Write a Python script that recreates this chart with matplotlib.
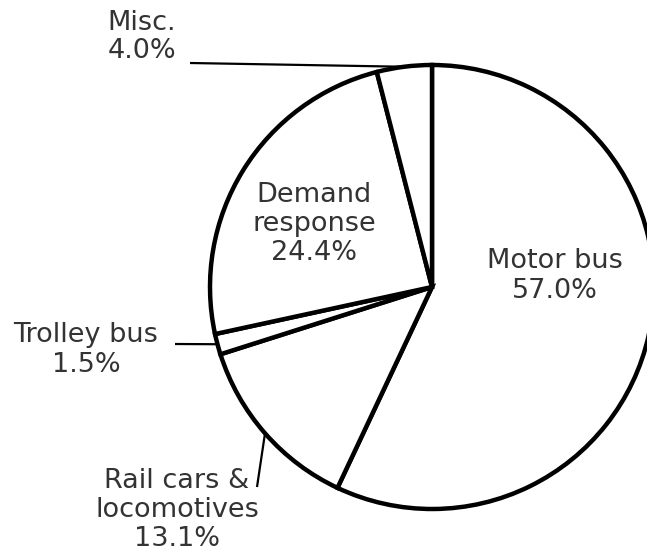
import numpy as np
import matplotlib
matplotlib.use("Agg")
import matplotlib.pyplot as plt

# transit vehicle share (%), clockwise from 12 o'clock
labels = ["Motor bus", "Rail cars &\nlocomotives", "Trolley bus", "Demand\nresponse", "Misc."]
shares = [57.0, 13.1, 1.5, 24.4, 4.0]

W, H = 647, 558
fig = plt.figure(figsize=(W / 100, H / 100), dpi=100)
ax = fig.add_axes([0, 0, 1, 1])

cx, cy, r = 432, H - 287, 222
wedges, _ = ax.pie(shares, center=(cx, cy), radius=r, startangle=90,
                   counterclock=False, frame=True,
                   wedgeprops=dict(facecolor="white", edgecolor="black", linewidth=3.2))

ax.set_xlim(0, W)
ax.set_ylim(0, H)
ax.set_aspect("equal")
ax.axis("off")

txt = dict(fontsize=19.5, color="#333333", ha="center", va="center", linespacing=1.15)

# labels inside the pie
ax.text(555, H - 276, "%s\n%.1f%%" % (labels[0], shares[0]), **txt)
ax.text(314, H - 224, "%s\n%.1f%%" % (labels[3], shares[3]), **txt)

# labels outside, with leader lines to the wedge middle
outside = {1: ((177, H - 510), (257, H - 487)),
           2: ((86, H - 350), (175, H - 344)),
           4: ((142, H - 37), (190, H - 63))}
for i, (tpos, lend) in outside.items():
    w = wedges[i]
    mid = np.deg2rad((w.theta1 + w.theta2) / 2)
    px, py = cx + r * np.cos(mid), cy + r * np.sin(mid)
    ax.plot([lend[0], px], [lend[1], py], color="black", lw=1.6, solid_capstyle="butt")
    ax.text(tpos[0], tpos[1], "%s\n%.1f%%" % (labels[i], shares[i]), **txt)

fig.savefig("out.png", dpi=100)
